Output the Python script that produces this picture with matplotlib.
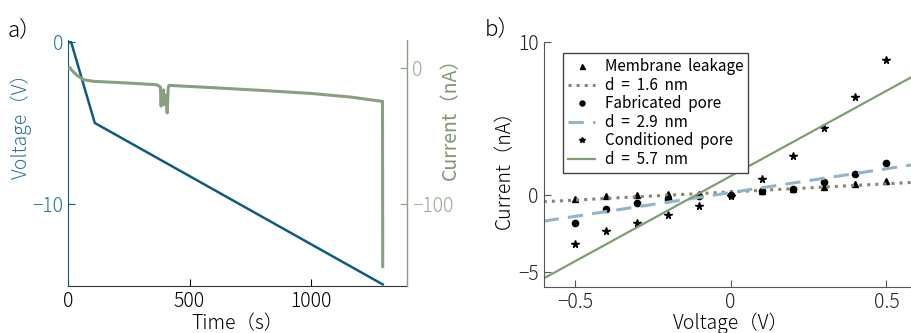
import numpy as np
import matplotlib.pyplot as plt

plt.rcParams['font.family'] = ['Noto Sans CJK JP', 'DejaVu Sans']
plt.rcParams['font.weight'] = 'light'
plt.rcParams['axes.labelweight'] = 'light'

# panel a: voltage ramp and measured current
t_volt = [0, 13, 110, 1295]
volt = [0, 0, -5, -15]

t_cur = [0, 8, 16, 37, 64, 105, 242, 366, 380, 383, 386, 390, 393, 396,
         400, 404, 408, 412, 415, 420, 600, 818, 1000, 1160, 1291, 1294, 1295]
cur = [0, 0.3, -1.8, -5.4, -8.6, -9.8, -11, -12.3, -14, -28, -18, -24,
       -16, -27, -20, -22, -33, -15, -12.8, -12.8, -14.5, -16.7, -18.7, -21.3, -24.5, -24.5, -146]

# panel b: I-V data
v_iv = [-0.5, -0.4, -0.3, -0.2, -0.1, 0.0, 0.1, 0.2, 0.3, 0.4, 0.5]
i_leak = [-0.26, -0.07, 0.0, 0.06, 0.1, 0.17, 0.28, 0.43, 0.54, 0.76, 0.91]
i_fab = [-1.8, -0.91, -0.48, -0.26, -0.06, 0.0, 0.26, 0.43, 0.87, 1.41, 2.12]
i_cond = [-3.18, -2.32, -1.8, -1.3, -0.71, -0.04, 1.04, 2.53, 4.37, 6.41, 8.81]

# fitted lines: slope (nS) and offset (nA)
fit_slope = [1.06, 3.1, 11.1]
fit_offset = [0.22, 0.18, 1.25]
fit_labels = ['d  =  1.6  nm', 'd  =  2.9  nm', 'd  =  5.7  nm']
data_labels = ['Membrane  leakage', 'Fabricated  pore', 'Conditioned  pore']

c_volt = '#0f5a80'
c_volt_txt = '#2b739c'
c_cur = '#8a9e80'
c_cur_txt = '#9aab90'

fig = plt.figure(figsize=(9.12, 3.33), dpi=100)

ax1 = fig.add_axes([0.0746, 0.1411, 0.3717, 0.7388])
ax1.plot(t_volt, volt, color=c_volt, lw=1.8)
ax1.set_xlim(0, 1395)
ax1.set_ylim(-15.1, 0.14)
ax1.set_yticks([0, -10])
ax1.set_yticklabels(['0', '−10'])
ax1.set_xticks([0, 500, 1000])
ax1.set_xlabel('Time（s）', fontsize=14, labelpad=1)
ax1.set_ylabel('Voltage（V）', fontsize=14, color=c_volt_txt)
ax1.yaxis.set_label_coords(-0.106, 0.67)
ax1.tick_params(direction='in', labelsize=14, length=5)
ax1.tick_params(axis='y', colors=c_volt, labelcolor=c_volt_txt)
ax1.spines['top'].set_visible(False)
ax1.spines['left'].set_color(c_volt)
ax1.spines['bottom'].set_color('#333333')

ax2 = ax1.twinx()
ax2.plot(t_cur, cur, color=c_cur, lw=2.2)
ax2.set_ylim(-160.3, 20.6)
ax2.set_yticks([0, -100])
ax2.set_yticklabels(['0', '−100'])
ax2.set_ylabel('Current（nA）', fontsize=14, color='#7f9574', fontweight='normal')
ax2.yaxis.set_label_coords(1.098, 0.70)
ax2.tick_params(direction='in', labelsize=14, length=5, colors=c_cur, labelcolor=c_cur_txt)
ax2.spines['top'].set_visible(False)
ax2.spines['right'].set_color(c_cur)
ax2.spines['left'].set_visible(False)
ax2.spines['bottom'].set_visible(False)

fig.text(0.008, 0.885, 'a）', fontsize=16)

ax3 = fig.add_axes([0.5962, 0.139, 0.4099, 0.7358])
markers = ['^', 'o', '*']
msizes = [4.5, 4.5, 5.5]
styles = [':', (0, (5, 3)), '-']
lcolors = ['#8c8472', '#92b4c8', '#7e9e72']
vx = np.array([-0.6, 0.6])
for d, lab, m, ms, sl, off, fl, ls, lc in zip([i_leak, i_fab, i_cond], data_labels, markers, msizes,
                                             fit_slope, fit_offset, fit_labels, styles, lcolors):
    ax3.plot(v_iv, d, m, color='black', ms=ms, ls='none', label=lab)
    ax3.plot(vx, off + sl * vx, color=lc, ls=ls, lw=2.2 if ls != '-' else 1.6, label=fl)
ax3.set_xlim(-0.6, 0.6)
ax3.set_ylim(-5.95, 10)
ax3.set_xticks([-0.5, 0, 0.5])
ax3.set_xticklabels(['−0.5', '0', '0.5'])
ax3.set_yticks([-5, 0, 10])
ax3.set_yticklabels(['−5', '0', '10'])
ax3.set_xlabel('Voltage（V）', fontsize=14, labelpad=0)
ax3.set_ylabel('Current（nA）', fontsize=14, labelpad=2)
ax3.tick_params(direction='in', labelsize=14, length=5, colors='#555555', labelcolor='#222222')
ax3.spines['top'].set_visible(False)
ax3.spines['right'].set_visible(False)
for s in ['left', 'bottom']:
    ax3.spines[s].set_color('#555555')
leg = ax3.legend(loc='upper left', bbox_to_anchor=(0.03, 0.985), fontsize=11, fancybox=False,
                 framealpha=1, edgecolor='#444444', handlelength=1.8, handletextpad=0.6,
                 borderpad=0.35, labelspacing=0.1, markerscale=0.8)
leg.get_frame().set_linewidth(1.0)
for txt in leg.get_texts():
    txt.set_fontweight('normal')

fig.text(0.532, 0.89, 'b）', fontsize=16)

fig.savefig('out.png', dpi=100)
